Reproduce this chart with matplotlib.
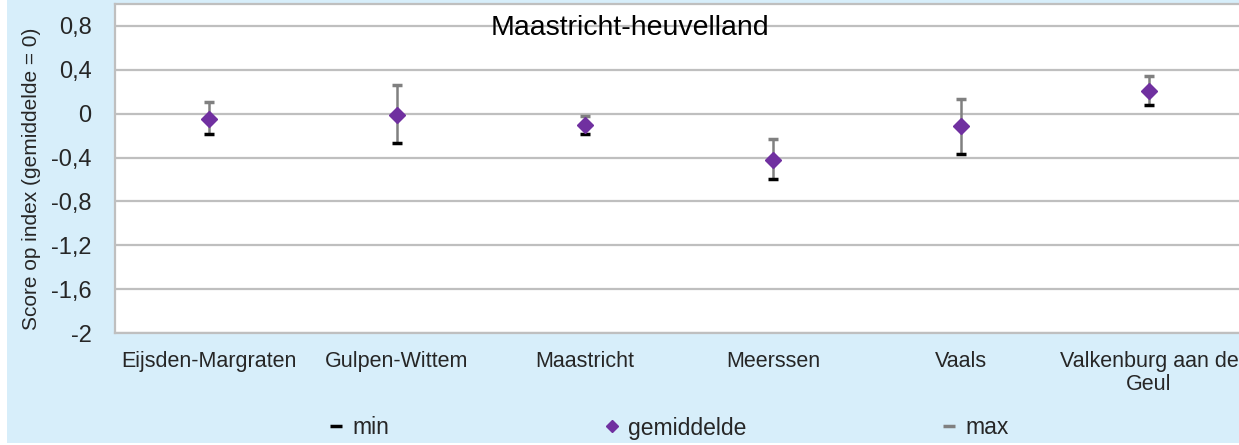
import matplotlib.pyplot as plt
from matplotlib.lines import Line2D
from matplotlib.patches import Rectangle

plt.rcParams['font.family'] = ['Liberation Sans', 'DejaVu Sans']

## data
gemeenten = ['Eijsden-Margraten', 'Gulpen-Wittem', 'Maastricht', 'Meerssen', 'Vaals',
             'Valkenburg aan de\nGeul']
gemiddelde = [-0.045, -0.01, -0.10, -0.42, -0.115, 0.21]
minimum = [-0.185, -0.265, -0.185, -0.60, -0.37, 0.075]
maximum = [0.105, 0.26, -0.025, -0.23, 0.13, 0.34]
yticks = [0.8, 0.4, 0, -0.4, -0.8, -1.2, -1.6, -2]
ytick_labels = ['0,8', '0,4', '0', '-0,4', '-0,8', '-1,2', '-1,6', '-2']

purple = '#7030A0'
grey = '#808080'
bg = '#D7EEFA'
txt = '#262626'

fig = plt.figure(figsize=(12.39, 4.45), dpi=100, facecolor='white')
fig.patches.append(Rectangle((7/1239, 2/445), 1, 1, transform=fig.transFigure,
                             facecolor=bg, edgecolor='none', zorder=-10))

ax = fig.add_axes([115/1239, 112/445, 1128/1239, 329/445])
ax.set_facecolor('white')

x = list(range(len(gemeenten)))
ax.vlines(x, minimum, maximum, color=grey, lw=1.8, zorder=2)
ax.plot(x, minimum, ls='none', marker='_', ms=7, mew=2.5, color='black', zorder=3)
ax.plot(x, maximum, ls='none', marker='_', ms=7, mew=2.5, color=grey, zorder=3)
ax.plot(x, gemiddelde, ls='none', marker='D', ms=8.5, color=purple, mec=purple, zorder=4)

ax.set_xlim(-0.5, len(gemeenten) - 0.5)
ax.set_ylim(-2, 1.0)
ax.set_yticks(yticks)
ax.set_yticklabels(ytick_labels)
ax.set_xticks(x)
ax.set_xticklabels(gemeenten, linespacing=1.1)
ax.tick_params(axis='y', length=0, pad=17, labelsize=17, labelcolor=txt)
ax.tick_params(axis='x', length=0, pad=13, labelsize=15.5, labelcolor=txt)
ax.yaxis.grid(True, color='#BFBFBF', lw=1.6)
ax.set_axisbelow(True)
for s in ax.spines.values():
    s.set_color('#BFBFBF')
    s.set_linewidth(1.6)

ax.set_ylabel('Score op index (gemiddelde = 0)', fontsize=15, color=txt)
ax.yaxis.set_label_coords(-74/1128, 0.47)
fig.text(630/1239, 1 - 28/445, 'Maastricht-heuvelland',
         ha='center', va='center', fontsize=20.5, color='black')

## legend entries, placed one by one
entries = [
    (Line2D([], [], ls='none', marker='_', ms=8, mew=2.5, color='black'), 'min', 327),
    (Line2D([], [], ls='none', marker='D', ms=6, color=purple), 'gemiddelde', 603),
    (Line2D([], [], ls='none', marker='_', ms=8, mew=2.5, color=grey), 'max', 940),
]
for h, lab, px in entries:
    fig.legend(handles=[h], labels=[lab], loc='center left',
               bbox_to_anchor=(px/1239, 17/445), frameon=False, fontsize=16.5,
               handlelength=0.8, handletextpad=0.3, borderpad=0, borderaxespad=0,
               labelcolor=txt)

fig.savefig('out.png', dpi=100, facecolor=fig.get_facecolor())
